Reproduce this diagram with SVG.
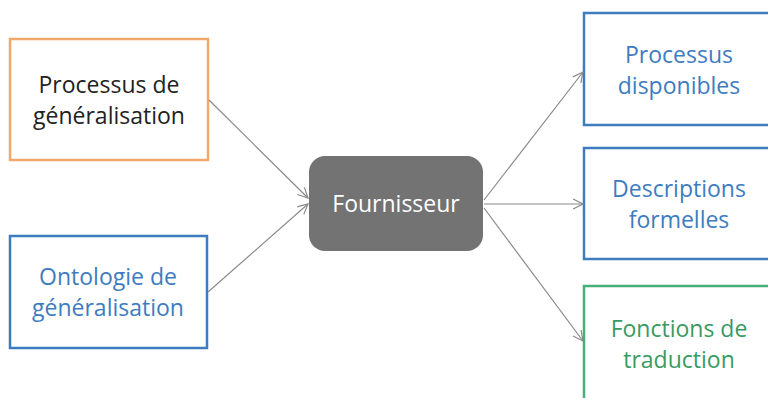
<svg xmlns="http://www.w3.org/2000/svg" width="768" height="398" viewBox="0 0 768 398">
<style>
text{font-family:"Open Sans","Liberation Sans",sans-serif;font-size:23px;text-anchor:middle}
.box{fill:#ffffff;stroke-width:2.5}
.or{stroke:#F2A86A}
.bl{stroke:#3E7CC0}
.gr{stroke:#45B077}
.tb{fill:#222222}
.tbl{fill:#3E7CC0}
.tgr{fill:#3A9A62}
.conn line{stroke:#8A8A8A;stroke-width:1.2;marker-end:url(#ah)}
</style>
<defs>
<marker id="ah" viewBox="0 0 12 12" refX="11" refY="6" markerWidth="12" markerHeight="12" markerUnits="userSpaceOnUse" orient="auto">
<path d="M1,1 L11,6 L1,11" fill="none" stroke="#8A8A8A" stroke-width="1.2"/>
</marker>
</defs>
<rect width="768" height="398" fill="#ffffff"/>
<g id="n1">
<rect class="box or" x="10" y="39" width="198" height="121"/>
<text class="tb" x="109" y="93">Processus de</text>
<text class="tb" x="109" y="124">généralisation</text>
</g>
<g id="n2">
<rect class="box bl" x="10" y="236" width="197" height="112"/>
<text class="tbl" x="108" y="285">Ontologie de</text>
<text class="tbl" x="108" y="316">généralisation</text>
</g>
<g id="center">
<rect x="309" y="156" width="174" height="95" rx="16" fill="#737373"/>
<text x="396" y="212" fill="#ffffff">Fournisseur</text>
</g>
<g id="r1">
<rect class="box bl" x="584" y="13" width="200" height="112"/>
<text class="tbl" x="679" y="63">Processus</text>
<text class="tbl" x="679" y="94">disponibles</text>
</g>
<g id="r2">
<rect class="box bl" x="584" y="148" width="200" height="111"/>
<text class="tbl" x="679" y="197">Descriptions</text>
<text class="tbl" x="679" y="228">formelles</text>
</g>
<g id="r3">
<rect class="box gr" x="584" y="286" width="200" height="120"/>
<text class="tgr" x="679" y="337">Fonctions de</text>
<text class="tgr" x="679" y="368">traduction</text>
</g>
<g class="conn" id="connectors">
<line x1="209" y1="100" x2="308" y2="198"/>
<line x1="208" y1="292" x2="308" y2="204"/>
<line x1="484" y1="200" x2="583" y2="72"/>
<line x1="484" y1="204" x2="583" y2="204"/>
<line x1="484" y1="208" x2="583" y2="341"/>
</g>
</svg>
